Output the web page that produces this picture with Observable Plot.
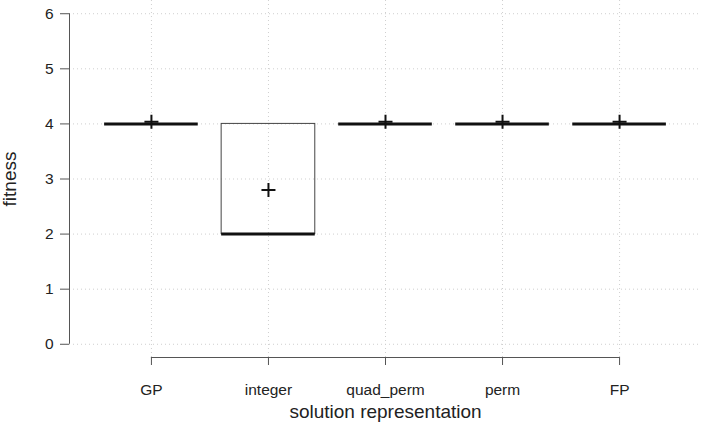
<!DOCTYPE html>
<html>
<head>
<meta charset="utf-8">
<script src="https://cdn.jsdelivr.net/npm/d3@7"></script>
<script src="https://cdn.jsdelivr.net/npm/@observablehq/plot@0.6"></script>
<style>
  html, body { margin: 0; padding: 0; background: #fff; }
</style>
</head>
<body>
<div id="chart"></div>
<script>
// Data
const categories = ["GP", "integer", "quad_perm", "perm", "FP"];
const lowerWhisker = [4, 2, 4, 4, 4];
const q1 = [4, 2, 4, 4, 4];
const median = [4, 2, 4, 4, 4];
const q3 = [4, 4, 4, 4, 4];
const upperWhisker = [4, 4, 4, 4, 4];
const means = [4.04, 2.8, 4.04, 4.04, 4.04];
const yTicks = [0, 1, 2, 3, 4, 5, 6];

const rows = categories.map((c, i) => ({
  cat: c, pos: i + 1,
  lo: lowerWhisker[i], q1: q1[i], med: median[i], q3: q3[i], hi: upperWhisker[i], mean: means[i]
}));

const halfBox = 0.4;
const xDomain = [0.3, 5.7];
const yDomain = [-0.24, 6.24];

const thinPlus = {
  draw(context, size) {
    const r = Math.sqrt(size / Math.PI);
    context.moveTo(-r, 0); context.lineTo(r, 0);
    context.moveTo(0, -r); context.lineTo(0, r);
  }
};

const font = "'Liberation Sans', Arial, Helvetica, sans-serif";

const chart = Plot.plot({
  width: 703,
  height: 423,
  marginLeft: 69,
  marginRight: 2,
  marginTop: 0,
  marginBottom: 66,
  style: { fontFamily: font, fontSize: "15.5px", color: "#222", background: "#fff" },
  x: { type: "linear", domain: xDomain },
  y: { type: "linear", domain: yDomain },
  marks: [
    // dotted grid
    Plot.ruleY(yTicks, { stroke: "#cfcfcf", strokeDasharray: "1,3", strokeWidth: 1 }),
    Plot.ruleX(rows.map(d => d.pos), { stroke: "#cfcfcf", strokeDasharray: "1,3", strokeWidth: 1 }),
    // whiskers (zero length here but drawn from data)
    Plot.ruleX(rows, { x: "pos", y1: "lo", y2: "q1", stroke: "#333", strokeDasharray: "4,3" }),
    Plot.ruleX(rows, { x: "pos", y1: "q3", y2: "hi", stroke: "#333", strokeDasharray: "4,3" }),
    // boxes
    Plot.rect(rows, {
      x1: d => d.pos - halfBox, x2: d => d.pos + halfBox,
      y1: "q1", y2: "q3", fill: "none", stroke: "#444", strokeWidth: 1
    }),
    // medians
    Plot.ruleY(rows, {
      y: "med", x1: d => d.pos - halfBox, x2: d => d.pos + halfBox,
      stroke: "#111", strokeWidth: 3
    }),
    // means
    Plot.dot(rows, { x: "pos", y: "mean", symbol: thinPlus, r: 7, stroke: "#111", strokeWidth: 2, fill: "none" }),
    // axis lines
    Plot.ruleX([xDomain[0]], { y1: yTicks[0], y2: yTicks[yTicks.length - 1], stroke: "#555" }),
    Plot.ruleY([yDomain[0]], { x1: rows[0].pos, x2: rows[rows.length - 1].pos, stroke: "#555" }),
    // axes
    Plot.axisY({ ticks: yTicks, tickSize: 9, tickPadding: 7, label: null, tickFormat: d => String(d),
      stroke: "#555", fill: "#222", fontSize: 15.5, fontFamily: font }),
    Plot.axisX({
      ticks: rows.map(d => d.pos), tickSize: 8, tickPadding: 18, label: null,
      tickFormat: d => categories[Math.round(d) - 1], stroke: "#555", fill: "#222", fontSize: 15.5, fontFamily: font
    }),
    // axis titles
    Plot.text(["solution representation"], {
      frameAnchor: "bottom", text: d => d, dy: 54, lineAnchor: "middle", textAnchor: "middle",
      fontSize: 19, fill: "#222", fontFamily: font
    }),
    Plot.text(["fitness"], {
      frameAnchor: "left", text: d => d, dx: -60, rotate: -90, lineAnchor: "middle", textAnchor: "middle",
      fontSize: 19, fill: "#222", fontFamily: font
    })
  ]
});

document.getElementById("chart").appendChild(chart);
</script>
</body>
</html>
